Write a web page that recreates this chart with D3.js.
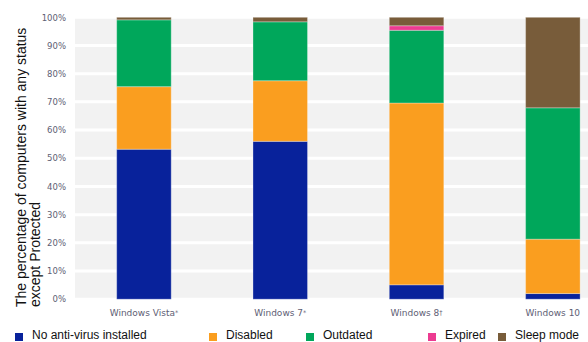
<!DOCTYPE html>
<html>
<head>
<meta charset="utf-8">
<script src="https://cdn.jsdelivr.net/npm/d3@7"></script>
<style>
	body { margin: 0; background: #fff; }
	svg { display: block; }
</style>
</head>
<body>
<script>
// chart data (percent of computers per status)
var categories = ['Windows Vista', 'Windows 7', 'Windows 8', 'Windows 10'];
var categoryMarks = ['*', '*', '\u2020', ''];
var noAntivirus = [53.2, 56.0, 5.1, 2.0];
var disabled = [22.2, 21.5, 64.5, 19.3];
var outdated = [23.7, 20.9, 25.8, 46.6];
var expired = [0, 0, 1.6, 0];
var sleepMode = [0.9, 1.6, 3.0, 32.1];
var seriesNames = ['No anti-virus installed', 'Disabled', 'Outdated', 'Expired', 'Sleep mode'];
var yTicks = [0, 10, 20, 30, 40, 50, 60, 70, 80, 90, 100];

var colors = ['#08229b', '#fa9e1f', '#00a75b', '#ec3b91', '#785c3a'];
var legendX = [15, 209, 306, 428, 498];

var width = 588, height = 342;
var svg = d3.select('body').append('svg')
	.attr('width', width)
	.attr('height', height);

var x = d3.scaleBand()
	.domain(categories)
	.range([75.8, 75.8 + 4 * 136.3])
	.paddingInner(0.6)
	.paddingOuter(0.3);

var y = d3.scaleLinear()
	.domain([0, 100])
	.range([299.2, 17.3]);

// grey plot background with white gridlines
svg.append('rect')
	.attr('x', 75)
	.attr('y', y(100))
	.attr('width', width - 75)
	.attr('height', y(0) - y(100))
	.attr('fill', '#f2f2f2');

svg.append('g').selectAll('line')
	.data(yTicks)
	.join('line')
		.attr('x1', 75)
		.attr('x2', width)
		.attr('y1', function(d) { return y(d); })
		.attr('y2', function(d) { return y(d); })
		.attr('stroke', '#fff')
		.attr('stroke-width', 3);

// y axis tick labels
var yAxis = d3.axisLeft(y)
	.tickValues(yTicks)
	.tickFormat(function(d) { return d + '%'; })
	.tickSize(0)
	.tickPadding(0);

var yg = svg.append('g')
	.attr('transform', 'translate(66,0)')
	.call(yAxis);
yg.select('.domain').remove();
yg.selectAll('text')
	.attr('fill', '#5e5e74')
	.style('font-family', '"DejaVu Sans", sans-serif')
	.style('font-size', '8.5px');

// stacked bars
var rows = categories.map(function(c, i) {
	return { cat: c, s0: noAntivirus[i], s1: disabled[i], s2: outdated[i], s3: expired[i], s4: sleepMode[i] };
});
var stack = d3.stack().keys(['s0', 's1', 's2', 's3', 's4'])(rows);

svg.append('g').selectAll('g')
	.data(stack)
	.join('g')
		.attr('fill', function(d, i) { return colors[i]; })
	.selectAll('rect')
	.data(function(d) { return d.filter(function(v) { return v[1] - v[0] > 0; }); })
	.join('rect')
		.attr('x', function(d) { return x(d.data.cat); })
		.attr('width', x.bandwidth())
		.attr('y', function(d) { return y(d[1]); })
		.attr('height', function(d) { return y(d[0]) - y(d[1]); })
		.attr('stroke', 'rgba(255,255,255,0.3)')
		.attr('stroke-width', 1);

// x axis labels
var xAxis = d3.axisBottom(x).tickSize(0).tickPadding(0);
var xg = svg.append('g')
	.attr('transform', 'translate(0,310)')
	.call(xAxis);
xg.select('.domain').remove();
xg.selectAll('text')
	.attr('dy', '0.7em')
	.attr('fill', '#5e5e74')
	.style('font-family', '"DejaVu Sans", sans-serif')
	.style('font-size', '9px')
	.text(null)
	.each(function(d, i) {
		var t = d3.select(this);
		t.append('tspan').text(d);
		if (categoryMarks[i]) {
			t.append('tspan')
				.attr('font-size', '6.5px')
				.attr('dy', '-0.25em')
				.text(categoryMarks[i]);
		}
	});

// y axis title
svg.append('text')
	.attr('transform', 'translate(26,307) rotate(-90)')
	.style('font-family', '"Liberation Sans", Arial, sans-serif')
	.style('font-size', '14px')
	.attr('fill', '#111')
	.selectAll('tspan')
	.data(['The percentage of computers with any status', 'except Protected'])
	.join('tspan')
		.attr('x', 0)
		.attr('y', function(d, i) { return i * 13.5; })
		.text(function(d) { return d; });

// legend
var legend = svg.append('g').selectAll('g')
	.data(seriesNames)
	.join('g')
		.attr('transform', function(d, i) { return 'translate(' + legendX[i] + ',333)'; });

legend.append('rect')
	.attr('width', 8)
	.attr('height', 8)
	.attr('fill', function(d, i) { return colors[i]; });

legend.append('text')
	.attr('x', 17)
	.attr('y', 5.5)
	.style('font-family', '"Liberation Sans", Arial, sans-serif')
	.style('font-size', '12px')
	.attr('fill', '#111')
	.text(function(d) { return d; });
</script>
</body>
</html>
